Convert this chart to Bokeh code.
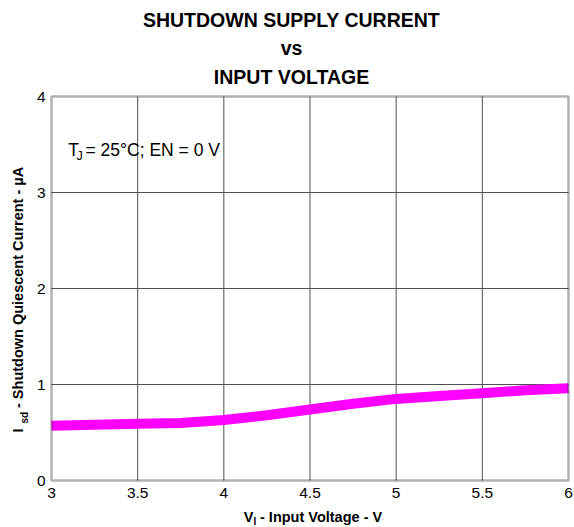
import math
from bokeh.plotting import figure
from bokeh.models import Label, FixedTicker, Range1d, LinearAxis, BoxAnnotation
from bokeh.embed import file_html
from bokeh.resources import INLINE

# ---- data ----
vin = [3.0, 3.25, 3.5, 3.75, 4.0, 4.25, 4.5, 4.75, 5.0, 5.25, 5.5, 5.75, 6.0]
isd = [0.57, 0.58, 0.59, 0.60, 0.63, 0.68, 0.74, 0.80, 0.85, 0.88, 0.91, 0.94, 0.96]
x_ticks = [3, 3.5, 4, 4.5, 5, 5.5, 6]
x_tick_labels = ["3", "3.5", "4", "4.5", "5", "5.5", "6"]
y_ticks = [0, 1, 2, 3, 4]
y_tick_labels = ["0", "1", "2", "3", "4"]
title_lines = ["SHUTDOWN SUPPLY CURRENT", "vs", "INPUT VOLTAGE"]

FONT = "Liberation Sans"
W, H = 574, 527
# plot-area pixel box inside the canvas
PL, PR, PT, PB = 51, 568, 96, 480
x0, x1 = x_ticks[0], x_ticks[-1]
y0, y1 = y_ticks[0], y_ticks[-1]
sx = (PR - PL) / (x1 - x0)
sy = (PB - PT) / (y1 - y0)

p = figure(width=W, height=H, min_border=0,
           x_range=Range1d(x0 - PL / sx, x1 + (W - PR) / sx),
           y_range=Range1d(y0 - (H - PB) / sy, y1 + PT / sy),
           x_axis_location=None, y_axis_location=None,
           output_backend="svg", toolbar_location=None)
p.background_fill_color = "white"
p.border_fill_color = "white"
p.outline_line_color = None
for g in p.grid:
    g.visible = False

# grid lines
gx = [t for t in x_ticks if x0 < t < x1]
gy = [t for t in y_ticks if y0 < t < y1]
p.segment(x0=gx, y0=[y0] * len(gx), x1=gx, y1=[y1] * len(gx),
          line_color="#505050", line_width=1)
p.segment(x0=[x0] * len(gy), y0=gy, x1=[x1] * len(gy), y1=gy,
          line_color="#505050", line_width=1)

# curve
p.line(vin, isd, line_color="#ff00ff", line_width=10)

# frame box
p.add_layout(BoxAnnotation(left=x0, right=x1, bottom=y0, top=y1,
                           fill_alpha=0, line_color="black", line_width=2.5))

# axes fixed at the plot-area edges
xax = LinearAxis(fixed_location=y0, ticker=FixedTicker(ticks=x_ticks))
yax = LinearAxis(fixed_location=x0, ticker=FixedTicker(ticks=y_ticks))
xax.major_label_overrides = {t: l for t, l in zip(x_ticks, x_tick_labels)}
yax.major_label_overrides = {t: l for t, l in zip(y_ticks, y_tick_labels)}
for ax in (xax, yax):
    ax.axis_line_color = None
    ax.major_tick_line_color = None
    ax.minor_tick_line_color = None
    ax.major_tick_in = 0
    ax.major_tick_out = 0
    ax.major_label_text_font = FONT
    ax.major_label_text_font_size = "15.5px"
    ax.major_label_text_color = "black"
xax.major_label_standoff = 7
yax.major_label_standoff = 6
p.add_layout(xax, "below")
p.add_layout(yax, "left")

SHIFT = 0.37  # observed baseline offset, in em


def lab(x, y, text, size, bold=False, rotated=False, align="left"):
    # x, y: canvas pixels from the top-left corner, at the glyph baseline
    fs = float(size)
    if rotated:
        x -= SHIFT * fs
    else:
        y -= SHIFT * fs
    p.add_layout(Label(x=x, y=H - y, x_units="screen", y_units="screen", text=text,
                       text_font=FONT, text_font_size=f"{fs}px",
                       text_font_style="bold" if bold else "normal",
                       text_color="black", angle=math.pi / 2 if rotated else 0.0,
                       text_align=align, text_baseline="alphabetic"))


# title
for t, yy in zip(title_lines, [26.7, 55, 83.3]):
    lab(291, yy, t, 19.5, bold=True, align="center")

# annotation
lab(67.7, 156, "T", 17.5)
lab(76, 160, "J", 12.5)
lab(85, 156, "= 25°C; EN = 0 V", 17.5)

# x-axis title
lab(243.3, 521.7, "V", 14.5, bold=True)
lab(253, 524.7, "I", 10, bold=True)
lab(259.5, 521.7, "- Input Voltage - V", 14.5, bold=True)

# y-axis title
lab(23, 432, "I", 14.5, bold=True, rotated=True)
lab(28, 423, "sd", 10, bold=True, rotated=True)
lab(23, 407.5, "- Shutdown Quiescent Current - µA", 14.5, bold=True, rotated=True)

open("out.html", "w").write(file_html(p, INLINE))
